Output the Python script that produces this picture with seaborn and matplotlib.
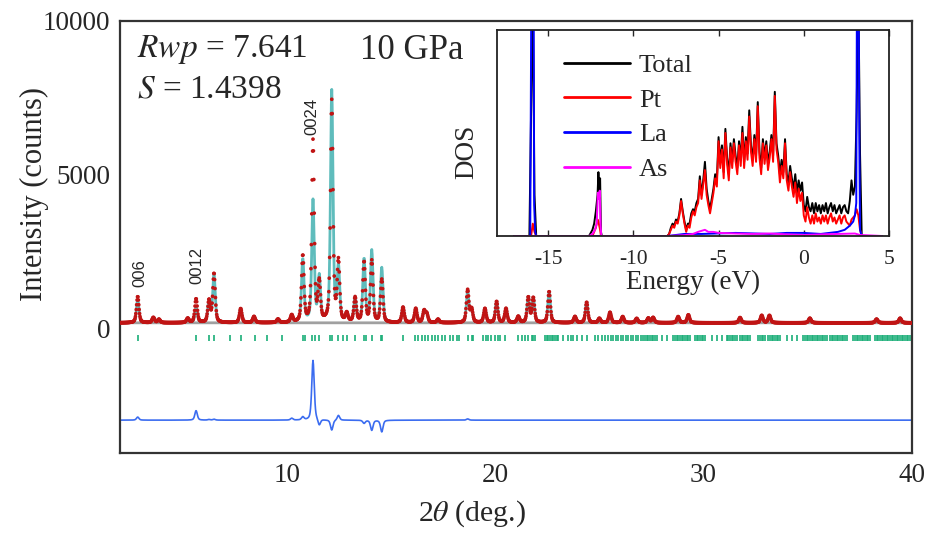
import numpy as np
import pandas as pd
import matplotlib
matplotlib.use("Agg")
import matplotlib.pyplot as plt
import seaborn as sns

# ---------------- XRD data ----------------
# 2theta positions of the fitted reflections and peak-top counts
peak_pos = [2.85, 3.60, 3.87, 5.25, 5.65, 6.27, 6.51, 7.79, 8.43, 9.58, 10.24,
            10.77, 11.26, 11.56, 12.16, 12.48, 12.88, 13.28, 13.71, 14.08, 14.56,
            15.58, 16.19, 16.59, 16.72, 17.26, 18.68, 18.87, 19.51, 20.07, 20.52,
            21.11, 21.59, 21.83, 22.59, 23.83, 24.39, 25.00, 25.51, 26.12, 26.79,
            27.35, 27.58, 28.78, 29.27, 31.75, 32.79, 33.16, 35.10, 38.30, 39.43]
calc_top = [980, 390, 330, 360, 690, 910, 1790, 680, 420, 330, 390,
            2280, 4170, 1660, 7750, 1990, 490, 1010, 2280, 2540, 1990,
            720, 680, 590, 490, 330, 1240, 650, 680, 910, 680,
            420, 1040, 1020, 1240, 420, 890, 360, 560, 420, 360,
            370, 390, 420, 480, 390, 460, 460, 370, 340, 370]
obs_top = [1080, 390, 330, 360, 1000, 930, 1820, 680, 420, 330, 450,
           2380, 6120, 1460, 7420, 2150, 490, 1010, 2180, 2210, 1610,
           720, 680, 590, 490, 330, 1280, 650, 680, 910, 680,
           420, 1040, 1020, 1240, 420, 890, 360, 560, 420, 360,
           370, 390, 420, 480, 390, 460, 460, 370, 340, 370]
background = 170          # grey background line (counts)
tail_offset = 220         # level the peak tops are measured from
peak_fwhm = 0.14          # deg
diff_offset = -3000       # where the difference curve is drawn
tick_row = -330           # where the Bragg ticks are drawn

hkl_labels = ["006", "0012", "0024"]
hkl_x = [2.95, 5.70, 11.22]
hkl_y = [1350, 1450, 6300]

bragg = [2.85, 5.65, 6.27, 6.51, 7.28, 7.79, 8.48, 9.04, 9.78, 10.77, 10.88, 11.20,
         11.36, 11.57, 12.08, 12.16, 12.48, 12.69, 12.88, 13.28, 13.71, 13.80, 14.08,
         14.51, 14.59, 15.60, 16.16, 16.32, 16.48, 16.64, 16.80, 16.96, 17.12, 17.28,
         17.44, 17.60, 17.84, 18.00, 18.16, 18.28, 18.72, 18.88, 18.96, 19.43, 19.55,
         19.67, 19.80, 19.99, 20.15, 20.23, 20.47, 21.11, 21.27, 21.43, 21.59, 21.75,
         21.83, 21.91, 22.39, 22.47, 22.55, 22.63, 22.71, 22.79, 22.87, 22.95, 23.03,
         23.27, 23.51, 23.63, 23.75, 23.91, 24.15, 24.39, 24.79, 24.95, 25.11, 25.27,
         25.43, 25.55, 25.67, 25.79, 25.91, 26.03, 26.15, 26.27, 26.39, 26.51, 26.63,
         26.75, 26.87, 26.99, 27.11, 27.19, 27.27, 27.35, 27.43, 27.51, 27.59, 27.67,
         27.75, 27.99, 28.23, 28.55, 28.63, 28.71, 28.79, 28.87, 28.95, 29.03, 29.11,
         29.19, 29.27, 29.35, 29.59, 29.67, 29.75, 29.83, 29.91, 29.99, 30.07, 30.39,
         30.63, 30.87, 31.11, 31.19, 31.27, 31.35, 31.43, 31.51, 31.59, 31.75, 31.83,
         31.91, 31.99, 32.07, 32.15, 32.23, 32.63, 32.71, 32.79, 32.87, 32.95, 33.11,
         33.19, 33.27, 33.35, 33.43, 33.51, 33.59, 33.67, 33.99, 34.23, 34.47, 34.79,
         34.87, 34.95, 35.03, 35.11, 35.19, 35.27, 35.35, 35.43, 35.51, 35.59, 35.67,
         35.75, 35.83, 35.91, 36.07, 36.15, 36.23, 36.31, 36.39, 36.47, 36.55, 36.63,
         36.71, 36.79, 36.87, 37.19, 37.27, 37.35, 37.43, 37.51, 37.59, 37.67, 37.75,
         37.83, 37.91, 37.99, 38.23, 38.31, 38.39, 38.47, 38.55, 38.63, 38.71, 38.79,
         38.87, 38.95, 39.03, 39.11, 39.19, 39.27, 39.35, 39.43, 39.51, 39.59, 39.67,
         39.75, 39.83, 39.91, 39.99]

# ---------------- DOS data ----------------
E_tot = [-17.0, -16.1, -16.0, -15.9, -15.8, -15.7, -12.6, -12.4, -12.3, -12.2, -12.1,
         -12.05, -12.0, -11.95, -11.9, -11.85, -8.1,
         -8.0, -7.9, -7.8, -7.7, -7.6, -7.5, -7.4, -7.3, -7.2, -7.1, -7.0, -6.9, -6.8,
         -6.7, -6.6, -6.5, -6.4, -6.3, -6.2, -6.1, -6.0, -5.9, -5.8, -5.7, -5.6, -5.5,
         -5.4, -5.3, -5.2, -5.1, -5.0, -4.9, -4.8, -4.7, -4.6, -4.5, -4.4, -4.3, -4.2,
         -4.1, -4.0, -3.9, -3.8, -3.7, -3.6, -3.5, -3.4, -3.3, -3.2, -3.1, -3.0, -2.9,
         -2.8, -2.7, -2.6, -2.5, -2.4, -2.3, -2.2, -2.1, -2.0, -1.9, -1.8, -1.7, -1.6,
         -1.5, -1.4, -1.3, -1.2, -1.1, -1.0, -0.9, -0.8, -0.7, -0.6, -0.5, -0.4, -0.3,
         -0.2, -0.1, 0.0, 0.1, 0.2, 0.3, 0.4, 0.5, 0.6, 0.7, 0.8, 0.9, 1.0, 1.1, 1.2,
         1.3, 1.4, 1.5, 1.6, 1.7, 1.8, 1.9, 2.0, 2.1, 2.2, 2.3, 2.4, 2.5, 2.6, 2.7, 2.8,
         2.9, 3.0, 3.1, 3.2, 3.3, 3.4, 3.5, 4.6]
dos_total = [0, 0, 0.6, 1.2, 0.2, 0, 0, 0.03, 0.06, 0.12, 0.20,
             0.31, 0.22, 0.28, 0.02, 0, 0,
             0.00, 0.01, 0.04, 0.06, 0.05, 0.08, 0.07, 0.11, 0.18, 0.12, 0.07, 0.03, 0.06,
             0.06, 0.11, 0.13, 0.12, 0.16, 0.18, 0.29, 0.20, 0.27, 0.36, 0.23, 0.17, 0.13,
             0.18, 0.23, 0.30, 0.27, 0.48, 0.36, 0.44, 0.31, 0.52, 0.38, 0.30, 0.45, 0.36,
             0.47, 0.39, 0.33, 0.46, 0.37, 0.53, 0.36, 0.48, 0.40, 0.61, 0.44, 0.37, 0.49,
             0.39, 0.65, 0.41, 0.33, 0.47, 0.38, 0.46, 0.35, 0.41, 0.49, 0.39, 0.70, 0.45,
             0.39, 0.30, 0.37, 0.31, 0.47, 0.30, 0.26, 0.34, 0.28, 0.23, 0.30, 0.21, 0.27,
             0.22, 0.26, 0.15, 0.12, 0.19, 0.14, 0.12, 0.16, 0.11, 0.16, 0.12, 0.15, 0.11,
             0.15, 0.12, 0.16, 0.11, 0.14, 0.16, 0.12, 0.15, 0.11, 0.13, 0.15, 0.11, 0.14,
             0.15, 0.12, 0.11, 0.17, 0.27, 0.20, 0.24, 0.60, 1.20, 0.40, 0.00, 0, 0]
dos_pt = [0, 0, 0, 0.06, 0.02, 0, 0, 0.0, 0.02, 0.04, 0.08,
          0.07, 0.05, 0.03, 0, 0, 0,
          0.00, 0.01, 0.03, 0.05, 0.04, 0.07, 0.06, 0.10, 0.17, 0.11, 0.06, 0.02, 0.05,
          0.04, 0.09, 0.12, 0.10, 0.14, 0.16, 0.27, 0.18, 0.25, 0.32, 0.20, 0.15, 0.11,
          0.16, 0.21, 0.28, 0.24, 0.46, 0.33, 0.42, 0.28, 0.50, 0.35, 0.27, 0.43, 0.33,
          0.45, 0.36, 0.30, 0.44, 0.34, 0.50, 0.33, 0.46, 0.37, 0.58, 0.41, 0.34, 0.47,
          0.36, 0.63, 0.38, 0.30, 0.45, 0.35, 0.44, 0.32, 0.38, 0.47, 0.36, 0.68, 0.42,
          0.36, 0.26, 0.34, 0.28, 0.45, 0.27, 0.22, 0.31, 0.24, 0.19, 0.26, 0.16, 0.23,
          0.17, 0.21, 0.10, 0.07, 0.14, 0.09, 0.06, 0.10, 0.06, 0.11, 0.07, 0.09, 0.06,
          0.10, 0.07, 0.10, 0.06, 0.09, 0.11, 0.07, 0.09, 0.06, 0.08, 0.10, 0.06, 0.09,
          0.10, 0.07, 0.06, 0.05, 0.08, 0.09, 0.10, 0.13, 0.10, 0.03, 0.00, 0, 0]
E_la = [-17.0, -16.05, -15.97, -15.92, -15.86, -15.82, -15.76, -15.7, -8.0, -7.0, -6.0,
        -4.0, -2.0, -1.0, 0.0, 1.0, 2.0, 2.4, 2.7, 2.9, 3.0, 3.08, 3.13, 3.2, 3.26,
        3.3, 3.4, 4.6]
dos_la = [0, 0, 1.5, 1.5, 1.5, 0.15, 0.02, 0, 0, 0.01, 0.01,
          0.015, 0.01, 0.015, 0.015, 0.01, 0.02, 0.03, 0.05, 0.07, 0.10, 0.16, 1.5, 1.5, 0.45,
          0.03, 0, 0]
E_as = [-17.0, -12.6, -12.4, -12.25, -12.15, -12.08, -12.02, -11.97, -11.92, -11.88,
        -8.0, -7.0, -6.5, -6.2, -6.0, -5.8, -5.6, -5.3, -5.0, -4.0, -3.0, -2.0, -1.0,
        0.0, 1.0, 2.0, 3.0, 3.3, 4.6]
dos_as = [0, 0, 0.01, 0.03, 0.06, 0.21, 0.18, 0.22, 0.05, 0,
          0, 0.004, 0.01, 0.02, 0.025, 0.03, 0.02, 0.02, 0.015, 0.012, 0.01, 0.012, 0.008,
          0.005, 0.008, 0.01, 0.012, 0.005, 0]

# ---------------- build profiles ----------------
tt = np.round(np.arange(2.0, 40.0001, 0.02), 2)


def pvoigt(x, x0, amp, w, eta=0.5):
    g = np.exp(-4 * np.log(2) * ((x - x0) / w) ** 2)
    lo = 1.0 / (1.0 + 4 * ((x - x0) / w) ** 2)
    return amp * (eta * lo + (1 - eta) * g)


calc = np.full_like(tt, background, dtype=float)
obs = np.full_like(tt, background, dtype=float)
for p, hc, ho in zip(peak_pos, calc_top, obs_top):
    calc += pvoigt(tt, p, hc - tail_offset, peak_fwhm)
    obs += pvoigt(tt, p, ho - tail_offset, peak_fwhm)
diff = obs - calc + diff_offset

xrd = pd.DataFrame({"tt": tt, "obs": obs, "calc": calc, "diff": diff,
                    "bg": np.full_like(tt, background, dtype=float)})

# ---------------- style ----------------
sns.set_style("white")
plt.rcParams["font.family"] = ["Liberation Serif", "DejaVu Serif"]
plt.rcParams["mathtext.fontset"] = "stix"

fig = plt.figure(figsize=(9.27, 5.34), dpi=100)
ax = fig.add_axes([120 / 927, 1 - 453 / 534, 792 / 927, 432 / 534])

sns.lineplot(data=xrd, x="tt", y="bg", ax=ax, color="#a0a0a0", lw=2.0,
             estimator=None, sort=False, zorder=1)
sns.lineplot(data=xrd, x="tt", y="calc", ax=ax, color="#2aa6a6", lw=2.0, alpha=0.75,
             estimator=None, sort=False, zorder=2)
sns.scatterplot(data=xrd, x="tt", y="obs", ax=ax, color="#c01414", s=7,
                edgecolor="none", zorder=3)
sns.lineplot(data=xrd, x="tt", y="diff", ax=ax, color="#3b6cf0", lw=1.2,
             estimator=None, sort=False, zorder=2)
sns.scatterplot(x=bragg, y=np.full(len(bragg), tick_row), ax=ax, marker="|",
                s=22, linewidth=1.2, color="#1aae78", zorder=2)

ax.set_xlim(2, 40)
ax.set_ylim(-4070, 10000)
ax.set_xticks([10, 20, 30, 40])
ax.set_xticks(list(range(4, 40, 2)), minor=True)
ax.set_yticks([0, 5000, 10000])
ax.set_yticks([-4000, -3000, -2000, -1000, 1000, 2000, 3000, 4000, 6000, 7000, 8000, 9000],
              minor=True)
ax.tick_params(axis="both", which="both", direction="in", length=4, width=1,
               color="#555555", labelsize=19.5, top=False, right=False, pad=7)
ax.tick_params(axis="both", which="minor", length=3)
for s in ax.spines.values():
    s.set_color("#333333")
    s.set_linewidth(1.6)

ax.set_xlabel(r"2$\theta$ (deg.)", fontsize=21.5)
ax.set_ylabel("Intensity (counts)", fontsize=22)
ax.xaxis.set_label_coords(0.445, -0.105)
ax.yaxis.set_label_coords(-0.09, 0.60)

ax.text(0.021, 0.917, r"$Rwp$ = 7.641", transform=ax.transAxes, fontsize=24,
        va="baseline", ha="left")
ax.text(0.021, 0.822, r"$S$ = 1.4398", transform=ax.transAxes, fontsize=24,
        va="baseline", ha="left")
ax.text(0.303, 0.911, "10 GPa", transform=ax.transAxes, fontsize=25,
        va="baseline", ha="left")
for lab, hx, hy in zip(hkl_labels, hkl_x, hkl_y):
    ax.text(hx, hy, lab, rotation=90, ha="center", va="bottom", fontsize=12,
            family=["Liberation Sans", "DejaVu Sans"])

# ---------------- inset ----------------
axi = fig.add_axes([497 / 927, 1 - 236 / 534, 392 / 927, 206 / 534])
sns.lineplot(x=E_tot, y=dos_total, ax=axi, color="black", lw=1.4, estimator=None,
             sort=False, label="Total")
sns.lineplot(x=E_tot, y=dos_pt, ax=axi, color="#ff0000", lw=1.4, estimator=None,
             sort=False, label="Pt")
sns.lineplot(x=E_la, y=dos_la, ax=axi, color="#0000ff", lw=1.4, estimator=None,
             sort=False, label="La")
sns.lineplot(x=E_as, y=dos_as, ax=axi, color="#ff00ff", lw=1.4, estimator=None,
             sort=False, label="As")
axi.set_xlim(-18, 5)
axi.set_ylim(0, 1)
axi.set_xticks([-15, -10, -5, 0, 5])
axi.set_xticklabels(["-15", "-10", "-5", "0", "5"])
axi.set_yticks([])
axi.tick_params(axis="x", direction="in", length=4, width=1, top=True, bottom=True,
                labelsize=15.5, pad=10)
for s in axi.spines.values():
    s.set_color("#222222")
    s.set_linewidth(1.3)
axi.set_xlabel("Energy (eV)", fontsize=19.5, labelpad=1)
axi.set_ylabel("DOS", fontsize=19.5)
axi.yaxis.set_label_coords(-0.045, 0.41)
leg = axi.legend(loc="upper left", bbox_to_anchor=(0.17, 0.885), frameon=False,
                 fontsize=19, handlelength=2.5, handletextpad=0.35, labelspacing=0.42,
                 borderpad=0, borderaxespad=0)
for h in leg.get_lines():
    h.set_linewidth(2.0)

fig.savefig("out.png", dpi=100)
